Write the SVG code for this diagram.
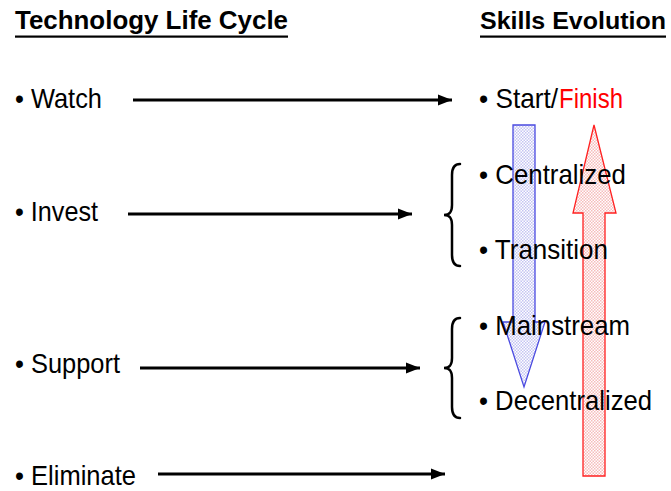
<svg xmlns="http://www.w3.org/2000/svg" width="671" height="491" viewBox="0 0 671 491">
  <defs>
    <style>
      .hd { font-family: "Liberation Sans", Arial, sans-serif; font-weight: bold; font-size: 25px; fill: #000; }
      .tx { font-family: "Liberation Sans", Arial, sans-serif; font-size: 28px; fill: #000; }
      .conn { stroke: #000; stroke-width: 3; fill: none; }
      .brace { stroke: #000; stroke-width: 2.5; fill: none; stroke-linecap: round; }
    </style>
    <marker id="ah" markerUnits="userSpaceOnUse" markerWidth="16" markerHeight="14" refX="14" refY="7" orient="auto">
      <path d="M0,1.5 L14,7 L0,12.5 Z" fill="#000"/>
    </marker>
    <pattern id="pb" width="3" height="3" patternUnits="userSpaceOnUse">
      <rect width="3" height="3" fill="#ffffff"/>
      <rect width="1.5" height="1.5" fill="#c4c4f2"/>
      <rect x="1.5" y="1.5" width="1.5" height="1.5" fill="#c4c4f2"/>
    </pattern>
    <pattern id="pr" width="3" height="3" patternUnits="userSpaceOnUse">
      <rect width="3" height="3" fill="#ffffff"/>
      <rect width="1.5" height="1.5" fill="#f6bcbc"/>
      <rect x="1.5" y="1.5" width="1.5" height="1.5" fill="#f6bcbc"/>
    </pattern>
  </defs>
  <rect width="671" height="491" fill="#ffffff"/>

  <g id="headers">
    <text class="hd" x="15" y="29" textLength="273" lengthAdjust="spacingAndGlyphs">Technology Life Cycle</text>
    <rect x="15" y="35.5" width="273" height="2.2" fill="#000"/>
    <text class="hd" x="480" y="29" textLength="186" lengthAdjust="spacingAndGlyphs" style="font-size:24px">Skills Evolution</text>
    <rect x="480" y="35.5" width="186" height="2.2" fill="#000"/>
  </g>

  <g id="evolution-arrows">
    <polygon id="down-arrow" points="513,125 535,125 535,322 545,322 524,387 503,322 513,322" fill="url(#pb)" stroke="#4a4ae0" stroke-width="1.3"/>
    <polygon id="up-arrow" points="594,125 616,213 605,213 605,476 583,476 583,213 573,213" fill="url(#pr)" stroke="#ff2020" stroke-width="1.3"/>
  </g>

  <g id="connectors">
    <line class="conn" x1="133" y1="100" x2="452" y2="100" marker-end="url(#ah)"/>
    <line class="conn" x1="128" y1="214" x2="412" y2="214" marker-end="url(#ah)"/>
    <line class="conn" x1="140" y1="368" x2="420" y2="368" marker-end="url(#ah)"/>
    <line class="conn" x1="158" y1="474" x2="445" y2="474" marker-end="url(#ah)"/>
    <path class="brace" d="M460,164 C454,164 452,168 452,175 L452,205 C452,212 450,215 444,215 C450,215 452,218 452,225 L452,255 C452,262 454,266 460,266"/>
    <path class="brace" d="M460,318 C454,318 452,322 452,329 L452,358 C452,365 450,368 444,368 C450,368 452,371 452,378 L452,407 C452,414 454,418 460,418"/>
  </g>

  <g id="tlc-watch"><text class="tx" x="15" y="108" textLength="87" lengthAdjust="spacingAndGlyphs">• Watch</text></g>
  <g id="tlc-invest"><text class="tx" x="15" y="221" textLength="83" lengthAdjust="spacingAndGlyphs">• Invest</text></g>
  <g id="tlc-support"><text class="tx" x="15" y="373" textLength="105" lengthAdjust="spacingAndGlyphs">• Support</text></g>
  <g id="tlc-eliminate"><text class="tx" x="15" y="485" textLength="121" lengthAdjust="spacingAndGlyphs">• Eliminate</text></g>

  <g id="se-start">
    <text class="tx" x="479" y="108" textLength="79" lengthAdjust="spacingAndGlyphs">• Start/</text>
    <text class="tx" x="559" y="108" textLength="64" lengthAdjust="spacingAndGlyphs" style="fill:#ff0000">Finish</text>
  </g>
  <g id="se-centralized"><text class="tx" x="479" y="183.5" textLength="147" lengthAdjust="spacingAndGlyphs">• Centralized</text></g>
  <g id="se-transition"><text class="tx" x="479" y="259" textLength="129" lengthAdjust="spacingAndGlyphs">• Transition</text></g>
  <g id="se-mainstream"><text class="tx" x="479" y="334.5" textLength="151" lengthAdjust="spacingAndGlyphs">• Mainstream</text></g>
  <g id="se-decentralized"><text class="tx" x="479" y="410" textLength="173" lengthAdjust="spacingAndGlyphs">• Decentralized</text></g>
</svg>
